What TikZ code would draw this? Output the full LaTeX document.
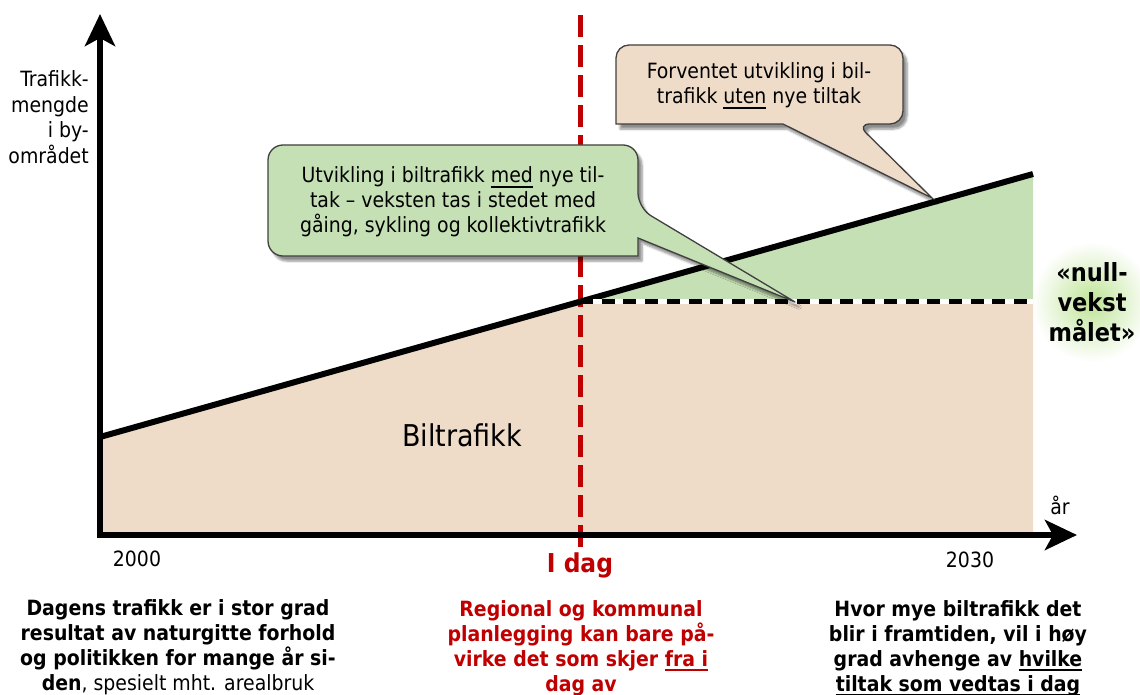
\documentclass[tikz,border=0pt]{standalone}
\usepackage{fontspec}
\setmainfont{DejaVu Sans Condensed}
\usetikzlibrary{arrows.meta,shadows.blur}
\definecolor{beige}{RGB}{238,220,201}
\definecolor{lgreen}{RGB}{197,224,180}
\definecolor{dred}{RGB}{192,0,0}
\definecolor{glowc}{RGB}{190,228,150}
\newcommand\ulin[2][1.8pt]{\setbox0\hbox{#2}\rlap{\rule[-5pt]{\wd0}{#1}}\box0\relax}
\begin{document}
\begin{tikzpicture}[x=1pt,y=-1pt,
  txt/.style={font=\fontsize{21}{25}\selectfont, align=center, inner sep=0pt},
  btxt/.style={font=\bfseries\fontsize{21}{25}\selectfont, align=center, inner sep=0pt, anchor=north},
  axis/.style={line width=6pt, -{Stealth[length=32pt,width=30pt,inset=8pt]}},
  callout/.style={draw=black!75, line width=1.3pt,
    blur shadow={shadow xshift=4pt, shadow yshift=-5pt, shadow blur steps=6, shadow opacity=45}},
]
\useasboundingbox (0,0) rectangle (1140,695);
% glow
\shade[inner color=glowc, outer color=white] (1092,302) circle[radius=60pt];
% coordinates
\coordinate (L0) at (100,437);
\coordinate (L1) at (1033,174);
\coordinate (T) at (580,301.7);
\coordinate (E) at (1033,301.7);
\coordinate (B0) at (100,532);
\coordinate (B1) at (1033,532);
% fills
\fill[beige] (B0) -- (L0) -- (T) -- (E) -- (B1) -- cycle;
\fill[lgreen] (T) -- (L1) -- (E) -- cycle;
% today line
\coordinate (R0) at (580,15);
\coordinate (R1) at (580,550);
\draw[dred, line width=5pt, dash pattern=on 22pt off 8pt] (R0) -- (R1);
% trend lines
\draw[line width=6pt] (L0) -- (L1);
\draw[white, line width=5pt] (T) -- (E);
\draw[line width=5pt, dash pattern=on 13pt off 8.7pt] (T) -- (E);
% axes
\coordinate (O1) at (100,538);
\coordinate (YT) at (100,14);
\coordinate (O2) at (97,535);
\coordinate (XT) at (1077,535);
\draw[axis] (O1) -- (YT);
\draw[axis] (O2) -- (XT);
% callout 1
\draw[callout, fill=beige] (760,45) [rounded corners=13pt] -- (903,45) -- (903,124) -- (857,124)
  [sharp corners] -- (932,198) -- (783,124) -- (616,124) [rounded corners=13pt] -- (616,45) -- cycle;
\node[txt] (c1) at (759,86) {Forventet utvikling i bil-\\trafikk \ulin[1.5pt]{uten} nye tiltak};
% callout 2
\draw[callout, fill=lgreen] (450,145) [rounded corners=15pt] -- (638,145) -- (638,208)
  [sharp corners] -- (795,302) -- (638,238) -- (638,256) [rounded corners=15pt] -- (268,256) -- (268,145) -- cycle;
\node[txt] (c2) at (453,202) {Utvikling i biltrafikk \ulin[1.5pt]{med} nye til-\\tak – veksten tas i stedet med\\gåing, sykling og kollektivtrafikk};
% labels
\node[txt, align=right, anchor=east, font=\fontsize{21}{25.5}\selectfont] (ylab) at (89,117) {Trafikk-\\mengde\\i by-\\området};
\node[inner sep=0pt, font=\fontsize{30}{36}\selectfont, anchor=base] (bil) at (462,446) {Biltrafikk};
\node[txt, anchor=base] (aar) at (1060,514) {år};
\node[txt, anchor=base] (y2000) at (137,566) {2000};
\node[txt, anchor=base] (y2030) at (970,567) {2030};
\node[inner sep=0pt, font=\bfseries\fontsize{26}{30}\selectfont, text=dred, anchor=base] (idag) at (580,572) {I dag};
\node[inner sep=0pt, font=\bfseries\fontsize{25}{30}\selectfont, align=center] (null) at (1092,302) {«null-\\vekst\\målet»};
% bottom texts
\node[btxt] (left) at (178,599) {Dagens trafikk er i stor grad\\resultat av naturgitte forhold\\og politikken for mange år si-\\den\mdseries, spesielt mht. arealbruk};
\node[btxt, text=dred] (mid) at (581,600) {Regional og kommunal\\planlegging kan bare på-\\virke det som skjer \ulin{fra i}\\dag av};
\node[btxt] (right) at (958,600) {Hvor mye biltrafikk det\\blir i framtiden, vil i høy\\grad avhenge av \ulin{hvilke}\\\ulin{tiltak som vedtas i dag}};
\end{tikzpicture}
\end{document}
